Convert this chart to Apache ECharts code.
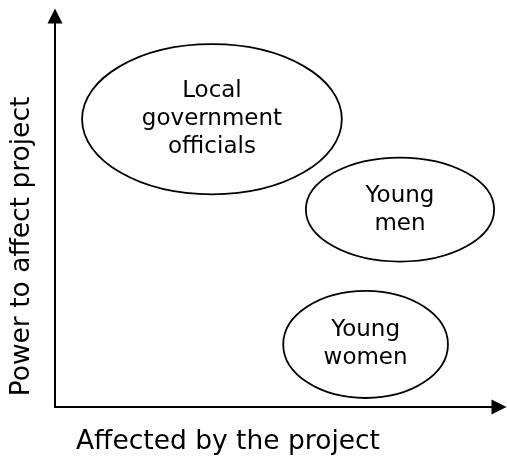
<!DOCTYPE html>
<html>
<head>
<meta charset="utf-8">
<script src="https://cdn.jsdelivr.net/npm/echarts@6/dist/echarts.min.js"></script>
<style>
  html, body { margin: 0; padding: 0; background: #fff; }
  #chart { width: 507px; height: 457px; }
</style>
</head>
<body>
<div id="chart"></div>
<script>
/* Stakeholder map: power vs. affected */
const groups = ['Local\ngovernment\nofficials', 'Young\nmen', 'Young\nwomen'];
// extent of each bubble on the two axes (0-100 scale)
const affectedFrom = [6.1, 56.5, 51.4];
const affectedTo = [64.6, 98.9, 88.5];
const powerFrom = [54.4, 37.2, 2.3];
const powerTo = [92.8, 63.8, 29.7];

const xTitle = 'Affected by the project';
const yTitle = 'Power to affect project';

let chartDom = document.getElementById('chart');
let myChart = echarts.init(chartDom);

let fontName = "'DejaVu Sans', Verdana, sans-serif";

let axisBase = {
    type: 'value',
    min: 0,
    max: 100,
    axisLine: {
        show: true,
        onZero: false,
        symbol: ['none', 'triangle'],
        symbolSize: [15, 15],
        lineStyle: { color: '#000', width: 2 },
    },
    axisTick: { show: false },
    axisLabel: { show: false },
    splitLine: { show: false },
    nameLocation: 'middle',
    nameTextStyle: {
        color: '#000',
        fontFamily: fontName,
        fontSize: 26.5,
    },
};

let data = groups.map((g, i) => [affectedFrom[i], affectedTo[i], powerFrom[i], powerTo[i]]);

let option = {
    animation: false,
    grid: { left: 55, right: 8, top: 16, bottom: 50, containLabel: false, outerBoundsMode: 'none' },
    xAxis: Object.assign({}, axisBase, {
        name: xTitle,
        nameGap: 22,
        nameTextStyle: Object.assign({}, axisBase.nameTextStyle, { padding: [0, 98, 0, 0] }),
    }),
    yAxis: Object.assign({}, axisBase, {
        name: yTitle,
        nameGap: 19,
        nameTextStyle: Object.assign({}, axisBase.nameTextStyle, { padding: [0, 70, 0, 0] }),
    }),
    series: [
        {
            type: 'custom',
            data: data,
            renderItem: function (params, api) {
                let p0 = api.coord([api.value(0), api.value(2)]);
                let p1 = api.coord([api.value(1), api.value(3)]);
                let cx = (p0[0] + p1[0]) / 2;
                let cy = (p0[1] + p1[1]) / 2;
                return {
                    type: 'group',
                    children: [
                        {
                            type: 'ellipse',
                            shape: { cx: cx, cy: cy, rx: Math.abs(p1[0] - p0[0]) / 2, ry: Math.abs(p1[1] - p0[1]) / 2 },
                            style: { fill: '#fff', stroke: '#000', lineWidth: 1.8 },
                        },
                        {
                            type: 'text',
                            x: cx,
                            y: cy,
                            style: {
                                text: groups[params.dataIndex],
                                fill: '#000',
                                fontFamily: fontName,
                                fontSize: 23,
                                lineHeight: 28,
                                align: 'center',
                                verticalAlign: 'middle',
                            },
                        },
                    ],
                };
            },
        },
    ],
};

option && myChart.setOption(option);
</script>
</body>
</html>
